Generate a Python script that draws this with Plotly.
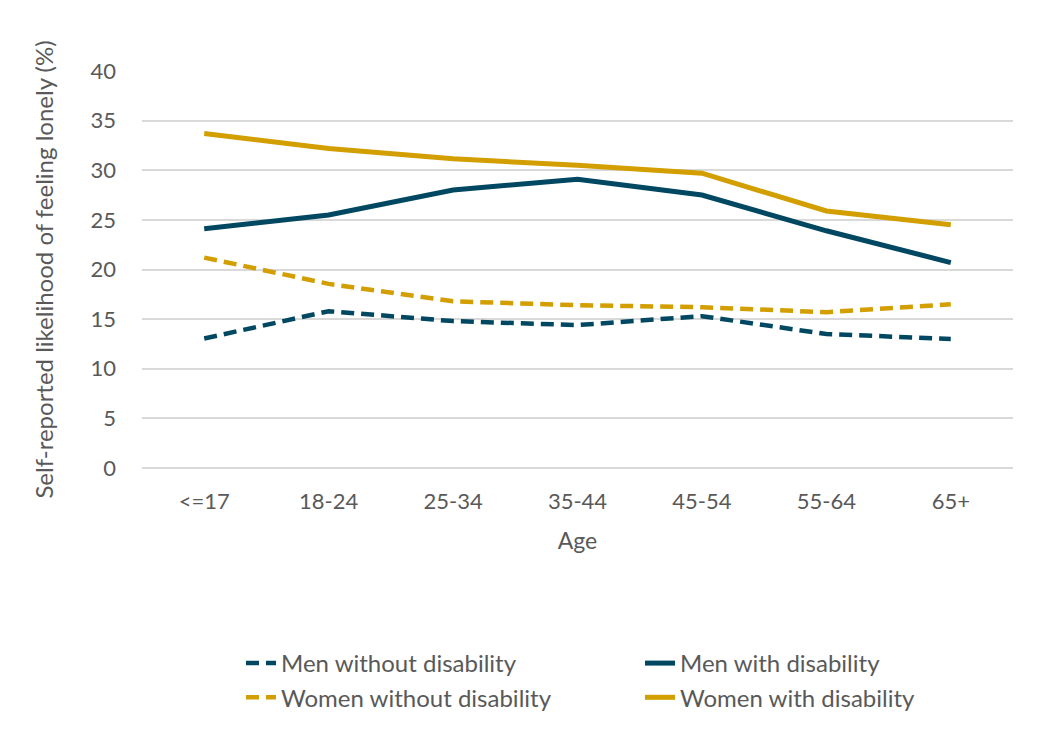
import plotly.graph_objects as go

ages = ["<=17", "18-24", "25-34", "35-44", "45-54", "55-64", "65+"]
men_without = [13.05, 15.8, 14.8, 14.4, 15.3, 13.5, 13.0]
men_with = [24.1, 25.5, 28.0, 29.1, 27.5, 23.9, 20.7]
women_without = [21.2, 18.55, 16.8, 16.4, 16.2, 15.7, 16.5]
women_with = [33.7, 32.2, 31.15, 30.5, 29.7, 25.9, 24.5]

NAVY = "#004862"
GOLD = "#D29E00"
TXT = "#595959"
FONT = "Lato, 'Open Sans', sans-serif"

fig = go.Figure()
series = [
    ("Men without disability", men_without, NAVY, "13px,7px", 4.5),
    ("Men with disability", men_with, NAVY, "solid", 5),
    ("Women without disability", women_without, GOLD, "13px,7px", 4.5),
    ("Women with disability", women_with, GOLD, "solid", 5),
]
for name, vals, col, dash, w in series:
    fig.add_trace(go.Scatter(x=ages, y=vals, name=name, mode="lines",
                             line=dict(color=col, width=w, dash=dash)))

W, H = 1046, 735
L, T = 134, 63
PW, PH = 871, 397
R, B = W - L - PW, H - T - PH


def px_x(p):
    return (p - L) / PW


def px_y(p):
    return (T + PH - p) / PH


fig.update_layout(
    width=W, height=H,
    margin=dict(l=L, r=R, t=T, b=B),
    paper_bgcolor="white",
    plot_bgcolor="white",
    font=dict(family=FONT, size=23, color=TXT),
    showlegend=True,
    legend=dict(orientation="h", x=px_x(233), xanchor="left",
                y=px_y(633), yanchor="top", entrywidth=354,
                font=dict(size=24, color=TXT), bgcolor="rgba(0,0,0,0)",
                tracegroupgap=0),
    xaxis=dict(type="category", range=[-0.5, 6.5], showgrid=False,
               showline=False, ticks="", ticklabelstandoff=18,
               tickfont=dict(size=22, color=TXT),
               title=dict(text="Age", font=dict(size=23, color=TXT), standoff=19)),
    yaxis=dict(range=[0, 40], tick0=0, dtick=5, showgrid=True,
               gridcolor="#d9d9d9", gridwidth=1.5, zeroline=True,
               zerolinecolor="#d9d9d9", zerolinewidth=1.5, showline=False,
               ticks="", ticklabelstandoff=25,
               tickfont=dict(size=22, color=TXT),
               title=dict(text="Self-reported likelihood of feeling lonely (%)",
                          font=dict(size=24, color=TXT), standoff=30)),
)

fig.write_html("out.html")
